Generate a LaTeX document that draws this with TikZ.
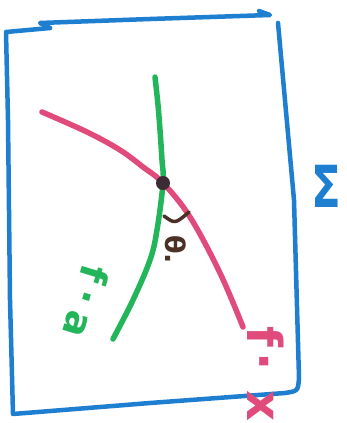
\documentclass[tikz,border=0pt]{standalone}
\usepackage{fontspec}
\setmainfont{DejaVu Sans}
\definecolor{mblue}{HTML}{1E7ED0}
\definecolor{mpink}{HTML}{E14B7B}
\definecolor{mgreen}{HTML}{22B55A}
\definecolor{mbrown}{HTML}{4B3026}
\definecolor{mdot}{HTML}{3B2B35}
\begin{document}
\begin{tikzpicture}[x=1pt,y=-1pt,line cap=round,line join=round,
  bluepen/.style={draw=mblue,line width=4.5pt},
  pinkpen/.style={draw=mpink,line width=5.5pt},
  greenpen/.style={draw=mgreen,line width=5.5pt},
  anglepen/.style={draw=mbrown,line width=3.5pt},
  lbl/.style={inner sep=0pt,anchor=base west}]
\useasboundingbox (0,0) rectangle (347,423);
% frame of the surface
\draw[bluepen] (50,28) -- (6,32) -- (8,120) -- (10,300) -- (13,414)
  -- (150,403) -- (285,393) .. controls (298,391) .. (299,378)
  -- (294,200) -- (278,23);
\draw[bluepen] (50,28) -- (40,23) -- (150,19) -- (270,15) -- (259,11);
\node[inner sep=0pt,text=mblue,xscale=0.75,font=\bfseries\fontsize{58}{58}\selectfont] (sigma) at (326,186) {Σ};
% intersection point
\coordinate (P) at (163,183);
% pink curve
\draw[pinkpen] plot[smooth,tension=0.6] coordinates {(42,112) (87,132) (120,150) (143,167) (P) (190,217) (220,273) (243,327)};
% green curve
\draw[greenpen] plot[smooth,tension=0.6] coordinates {(155,77) (158,105) (160,130) (162,160) (P) (157,230) (150,260) (133,300) (113,339)};
\fill[mdot] (P) circle (7pt);
% angle mark
\draw[anglepen] (164,216) .. controls (175,224) .. (189,212);
% labels
\node[lbl,text=mbrown,rotate=-90,font=\bfseries\fontsize{27}{27}\selectfont] (theta) at (165,235) {θ.};
\node[lbl,text=mpink,rotate=-90,font=\bfseries\fontsize{48}{48}\selectfont] (lx) at (247,326) {f\hspace{5pt}·\hspace{20pt}x};
\node[lbl,text=mgreen,rotate=-107,font=\bfseries\fontsize{38}{38}\selectfont] (la) at (84,262) {f\hspace{9pt}·\hspace{9pt}a};
\end{tikzpicture}
\end{document}
